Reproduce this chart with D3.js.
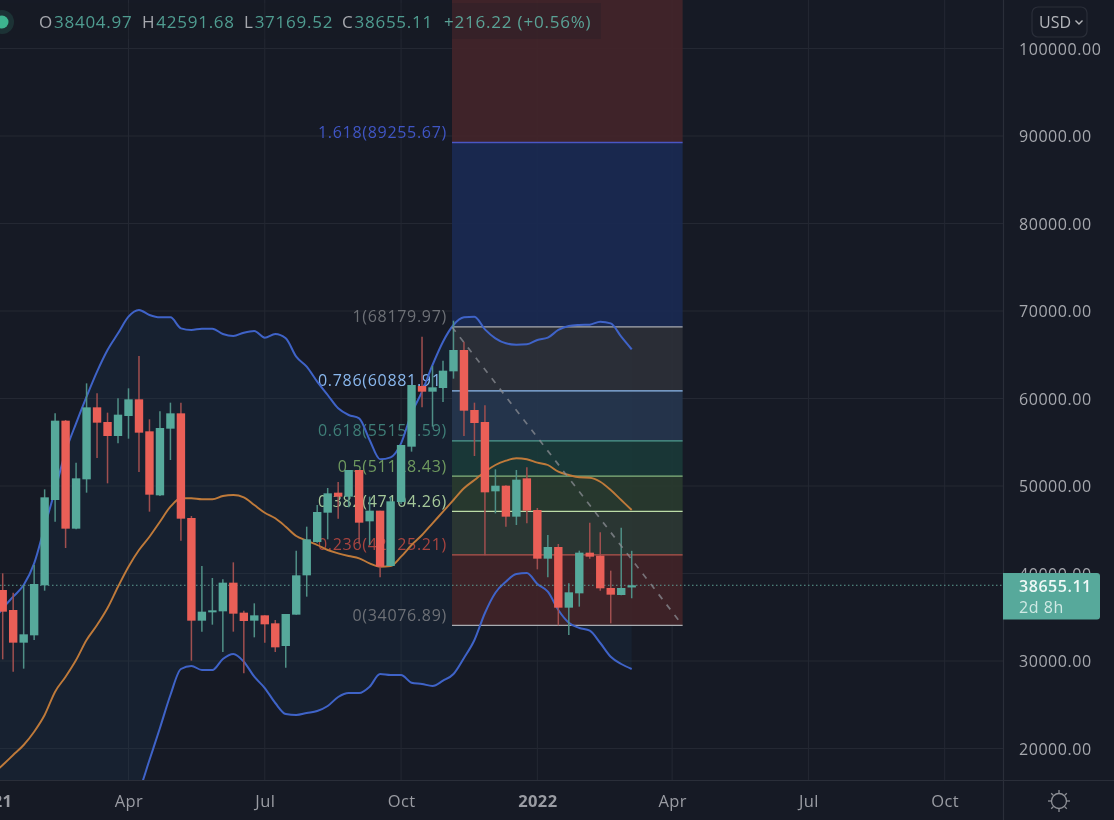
<!DOCTYPE html>
<html>
<head>
<meta charset="utf-8">
<script src="https://cdn.jsdelivr.net/npm/d3@7/dist/d3.min.js"></script>
<style>
html,body{margin:0;padding:0;background:#161a25;overflow:hidden}
svg{display:block;filter:blur(0.5px)}
text{font-family:"Open Sans",sans-serif;font-weight:500}
</style>
</head>
<body>
<svg id="chart" width="1114" height="820"></svg>
<script>
const opens=[33000,38114,35829,32095,32933,38648,48400,57467,45124,50762,58990,57314,55714,58000,59905,56248,48933,56552,58305,46343,34610,35562,35676,38952,35524,34610,35219,34305,31714,35295,39791,43600,46952,49238,48781,51829,45962,47181,40857,48171,54495,61429,60781,61200,63105,65543,58686,57314,49391,50038,46495,50876,47257,41695,43029,36095,37733,42381,42038,38343,37543,38404.97];
const highs=[41900,40019,37810,38648,40971,49619,58305,57543,52667,61733,60590,58381,60019,61162,64857,57619,58533,59524,59524,46571,40857,39486,39333,41276,35752,36591,35219,34686,35372,42610,45352,47829,49771,50457,51829,51829,48781,47181,48781,54686,61543,67067,63714,64324,68895,66495,59524,59219,51905,50076,51829,52133,47486,44400,43371,38876,42610,45810,44705,40324,45238,42591.68];
const lows=[28000,30191,28781,29124,32400,38038,45924,42914,45048,49238,53200,50305,54876,55409,51600,47067,48857,52971,43752,30038,33352,34152,31029,33352,28591,32705,32095,31029,29238,35295,37352,43524,43905,46267,47562,43448,43257,39562,40857,47943,53924,58990,56781,59600,62267,55714,53428,42076,46876,45352,45543,45733,40476,39562,34076,32971,36210,41695,38038,34305,37505,37169.52];
const closes=[38114,35638,32095,33048,38800,48705,57467,45124,50876,58990,57238,55714,58152,59905,56095,49009,56629,58305,46267,34610,35638,35791,38952,35410,34572,35219,34191,31562,35372,39791,43905,47029,49162,48781,51829,45810,47181,40781,48248,54686,61543,60781,61276,63181,65543,58609,57200,49276,50038,46495,50724,47181,41695,43029,36095,37848,42381,41924,38305,37581,38343,38655.11];
const upperBand=[34400,36019,37352,38686,41162,45352,49543,53924,57162,60209,63067,65543,67448,69352,70114,69543,69276,69276,68019,67829,67981,67981,67371,67143,67524,67714,66952,67371,66876,64781,63638,61924,60400,58876,58114,57733,55257,53048,53276,54876,58305,60781,63829,66495,68400,69276,69352,67905,66876,66305,66152,66190,66686,66952,67829,68286,68400,68438,68781,68590,67067,65619];
const middleBand=[17000,18114,19257,20400,21920,23829,26491,28206,30114,32400,34114,36057,38491,40777,42686,44206,45920,47634,48594,48594,48480,48480,48857,48971,48709,47829,46949,46309,45349,44286,43749,43257,42686,42309,42000,41737,41166,40777,40857,41920,43257,44400,45737,47063,48400,49737,50686,51634,52400,52891,53166,53051,52663,52400,51634,51257,50994,50949,50491,49543,48400,47257];
const lowerBand=[200,209,1162,2114,2678,2306,3439,2488,3066,4591,5161,6571,9534,12202,15029,18686,22343,26114,29086,29429,28971,28971,30229,30800,29920,28206,26914,25200,23943,23829,24057,24286,24857,25886,26343,26343,27063,28514,28400,28400,27520,27371,27143,27749,28514,30343,32400,35486,37806,39063,39943,40057,38800,37920,35829,34377,33771,33463,32057,30491,29657,29086];
const priceTicks=[20000,30000,40000,50000,60000,70000,80000,90000,100000];
const timeTicks=["2021-01-04","2021-04-05","2021-07-05","2021-10-04","2022-01-03","2022-04-03","2022-07-03","2022-10-02"];
const timeLabels=["2021","Apr","Jul","Oct","2022","Apr","Jul","Oct"];
const fibRatios=[1.618,1,0.786,0.618,0.5,0.382,0.236,0];
const fibPrices=[89255.67,68179.97,60881.91,55152.59,51128.43,47104.26,42125.21,34076.89];
const fibLineColors=["#4a56c4","#a9abb0","#8fbdf0","#4f9d8f","#86b57e","#bcdca8","#b4544c","#a9abb0"];
const fibTextColors=["#3f55c4","#6d7076","#8ab8ee","#3f7f78","#6f9a5f","#a5c89a","#a8443f","#6d7076"];
const fibZoneColors=["rgb(26,42,82)","rgb(44,47,56)","rgb(38,54,77)","rgb(26,57,56)","rgb(41,58,46)","rgb(44,56,52)","rgb(65,36,40)"];
const fibTopZoneColor="rgb(67,37,42)";
const fibStart="2021-11-07", fibEnd="2022-04-10";
const lastPrice=38655.11, countdown="2d 8h";
const headerItems=[["O","38404.97"],["H","42591.68"],["L","37169.52"],["C","38655.11"]];
const changeText="+216.22 (+0.56%)";
const currency="USD";

const W=1114,H=820,plotW=1003,plotH=780;
const UP="#56a99b",DOWN="#ea5f57",UPW="#4f8f86",DOWNW="#a04f4f";
const svg=d3.select("#chart");
const parse=d3.utcParse("%Y-%m-%d");
const firstWeek=parse("2021-01-04");
const dates=opens.map((_,i)=>d3.utcMonday.offset(firstWeek,i));
const x=d3.scaleUtc().domain([parse("2021-01-11"),parse("2022-03-07")]).range([2.7,631.7]);
const y=d3.scaleLinear().domain([20000,100000]).range([748.5,48.5]);

svg.append("rect").attr("width",W).attr("height",H).attr("fill","#161a25");
svg.append("defs").append("clipPath").attr("id","plot").append("rect").attr("width",plotW).attr("height",plotH);
const plot=svg.append("g").attr("clip-path","url(#plot)");

// grid
const gridG=plot.append("g");
gridG.selectAll("line.h").data(priceTicks).join("line").attr("class","h")
 .attr("x1",0).attr("x2",plotW).attr("y1",d=>y(d)).attr("y2",d=>y(d)).attr("stroke","#242833");
gridG.selectAll("line.v").data(timeTicks).join("line").attr("class","v")
 .attr("x1",d=>x(parse(d))).attr("x2",d=>x(parse(d))).attr("y1",0).attr("y2",plotH).attr("stroke","#242833");

// band fill
plot.append("path").datum(dates.map((d,i)=>i))
 .attr("d",d3.area().curve(d3.curveMonotoneX).x(i=>x(dates[i])).y0(i=>y(lowerBand[i])).y1(i=>y(upperBand[i])))
 .attr("fill","#1d3a55").attr("fill-opacity",0.24);

// fib zones
const fx0=x(parse(fibStart)),fx1=x(parse(fibEnd));
plot.append("rect").attr("x",fx0).attr("width",fx1-fx0).attr("y",0).attr("height",y(fibPrices[0]))
 .attr("fill",fibTopZoneColor).attr("fill-opacity",0.93);
plot.selectAll("rect.zone").data(fibZoneColors).join("rect").attr("class","zone")
 .attr("x",fx0).attr("width",fx1-fx0)
 .attr("y",(d,i)=>y(fibPrices[i])).attr("height",(d,i)=>y(fibPrices[i+1])-y(fibPrices[i]))
 .attr("fill",d=>d).attr("fill-opacity",0.93);
plot.selectAll("line.fib").data(fibPrices).join("line").attr("class","fib")
 .attr("x1",fx0).attr("x2",fx1).attr("y1",d=>y(d)).attr("y2",d=>y(d))
 .attr("stroke",(d,i)=>fibLineColors[i]).attr("stroke-width",1.3);
plot.selectAll("text.fib").data(fibPrices).join("text").attr("class","fib")
 .attr("x",fx0-5).attr("y",d=>y(d)-4.5).attr("text-anchor","end")
 .attr("font-size",16).attr("letter-spacing",0.7)
 .attr("fill",(d,i)=>fibTextColors[i])
 .text((d,i)=>`${fibRatios[i]}(${d.toFixed(2)})`);

// band lines
const lineOf=arr=>d3.line().curve(d3.curveMonotoneX).x((d,i)=>x(dates[i])).y(d=>y(d))(arr);
plot.append("path").attr("d",lineOf(upperBand)).attr("fill","none").attr("stroke","#3f63c8").attr("stroke-width",2);
plot.append("path").attr("d",lineOf(lowerBand)).attr("fill","none").attr("stroke","#3f63c8").attr("stroke-width",2);
plot.append("path").attr("d",lineOf(middleBand)).attr("fill","none").attr("stroke","#bf7a3a").attr("stroke-width",1.9);

// last price line
plot.append("line").attr("x1",0).attr("x2",plotW).attr("y1",y(lastPrice)).attr("y2",y(lastPrice))
 .attr("stroke","#5d9c92").attr("stroke-width",1).attr("stroke-dasharray","1.5 2.5");

// candles
const barW=8.4;
const candles=plot.append("g").selectAll("g").data(dates.map((d,i)=>i)).join("g");
candles.append("line").attr("x1",i=>x(dates[i])).attr("x2",i=>x(dates[i]))
 .attr("y1",i=>y(highs[i])).attr("y2",i=>y(lows[i])).attr("stroke-width",1.5)
 .attr("stroke",i=>closes[i]>=opens[i]?UPW:DOWNW);
candles.append("rect").attr("x",i=>x(dates[i])-barW/2).attr("width",barW)
 .attr("y",i=>y(Math.max(opens[i],closes[i])))
 .attr("height",i=>Math.max(1.5,Math.abs(y(opens[i])-y(closes[i]))))
 .attr("fill",i=>closes[i]>=opens[i]?UP:DOWN);

// fib trend line
plot.append("line").attr("x1",fx0).attr("x2",fx1).attr("y1",y(fibPrices[1])).attr("y2",y(fibPrices[7]))
 .attr("stroke","#8b8e94").attr("stroke-width",1.7).attr("stroke-dasharray","6 7").attr("stroke-opacity",0.75);

// axis lines
svg.append("line").attr("x1",plotW+0.5).attr("x2",plotW+0.5).attr("y1",0).attr("y2",H).attr("stroke","#2a2e39").attr("stroke-width",1.2);
svg.append("line").attr("x1",0).attr("x2",W).attr("y1",plotH+0.5).attr("y2",plotH+0.5).attr("stroke","#2a2e39").attr("stroke-width",1.2);

// axes
const yAxis=d3.axisRight(y).tickValues(priceTicks).tickSize(0).tickPadding(16).tickFormat(d=>d.toFixed(2));
const yG=svg.append("g").attr("transform",`translate(${plotW},0.6)`).call(yAxis);
yG.select(".domain").remove();
yG.selectAll("text").attr("font-size",16).attr("letter-spacing",0.55).attr("fill","#a6a8ae")
 .style("font-family",'"Open Sans",sans-serif');
const xAxis=d3.axisBottom(x).tickValues(timeTicks.map(parse)).tickSize(0).tickPadding(15)
 .tickFormat((d,i)=>timeLabels[i]);
const xG=svg.append("g").attr("transform",`translate(0,${plotH})`).call(xAxis);
xG.select(".domain").remove();
xG.selectAll("text").attr("font-size",16.5).attr("letter-spacing",0.4).attr("fill","#9a9ca3")
 .style("font-family",'"Open Sans",sans-serif')
 .style("font-weight",(d,i)=>timeLabels[i].length===4?700:500);

// last price tag
const tagY=y(lastPrice);
const tagPath=d3.path();
{const l=plotW,r=1100,t=573,b=619.5,q=3;
 tagPath.moveTo(l,t);tagPath.lineTo(r-q,t);tagPath.quadraticCurveTo(r,t,r,t+q);tagPath.lineTo(r,b-q);tagPath.quadraticCurveTo(r,b,r-q,b);tagPath.lineTo(l,b);tagPath.closePath();}
svg.append("path").attr("d",tagPath.toString()).attr("fill","#57a99b");
svg.append("text").attr("x",1019).attr("y",tagY+6.5).attr("font-size",16).attr("letter-spacing",0.55).attr("fill","#eef8f6").style("font-weight",600).text(lastPrice.toFixed(2));
svg.append("text").attr("x",1019).attr("y",tagY+27.5).attr("font-size",16).attr("letter-spacing",0.55).attr("fill","#cfe9e4").text(countdown);

// currency button
svg.append("rect").attr("x",1032).attr("y",7).attr("width",55).attr("height",30).attr("rx",6).attr("fill","none").attr("stroke","#2a2e39").attr("stroke-width",1.2);
svg.append("text").attr("x",1039).attr("y",28).attr("font-size",16).attr("fill","#b4b6bb").text(currency);
svg.append("path").attr("d","M1075.5 20.5l3.5 3.5l3.5-3.5").attr("fill","none").attr("stroke","#b4b6bb").attr("stroke-width",1.4);

// settings icon
const sun=svg.append("g").attr("transform","translate(1059,801)").attr("stroke","#8e9096").attr("fill","none").attr("stroke-width",1.3);
sun.append("circle").attr("r",7.5);
d3.range(8).forEach(k=>{const a=k*Math.PI/4;
 sun.append("line").attr("x1",8*Math.cos(a)).attr("y1",8*Math.sin(a)).attr("x2",11*Math.cos(a)).attr("y2",11*Math.sin(a));});

// header legend
svg.append("rect").attr("x",0).attr("y",3).attr("width",601).attr("height",36).attr("fill","#161a25").attr("fill-opacity",0.22);
svg.append("circle").attr("cx",2).attr("cy",22).attr("r",12).attr("fill","#3db48f").attr("fill-opacity",0.16);
svg.append("circle").attr("cx",2).attr("cy",22).attr("r",6.5).attr("fill","#3db48f");
const hdrX=[39,142,244,342];
headerItems.forEach((it,i)=>{
 const t=svg.append("text").attr("x",hdrX[i]).attr("y",28).attr("font-size",17).attr("letter-spacing",0.75);
 t.append("tspan").attr("fill","#a6a8ae").text(it[0]);
 t.append("tspan").attr("fill","#4f9c90").attr("dx",1).text(it[1]);
});
svg.append("text").attr("x",444).attr("y",28).attr("font-size",17).attr("letter-spacing",0.8).attr("fill","#5aa296").text(changeText);
</script>
</body>
</html>
